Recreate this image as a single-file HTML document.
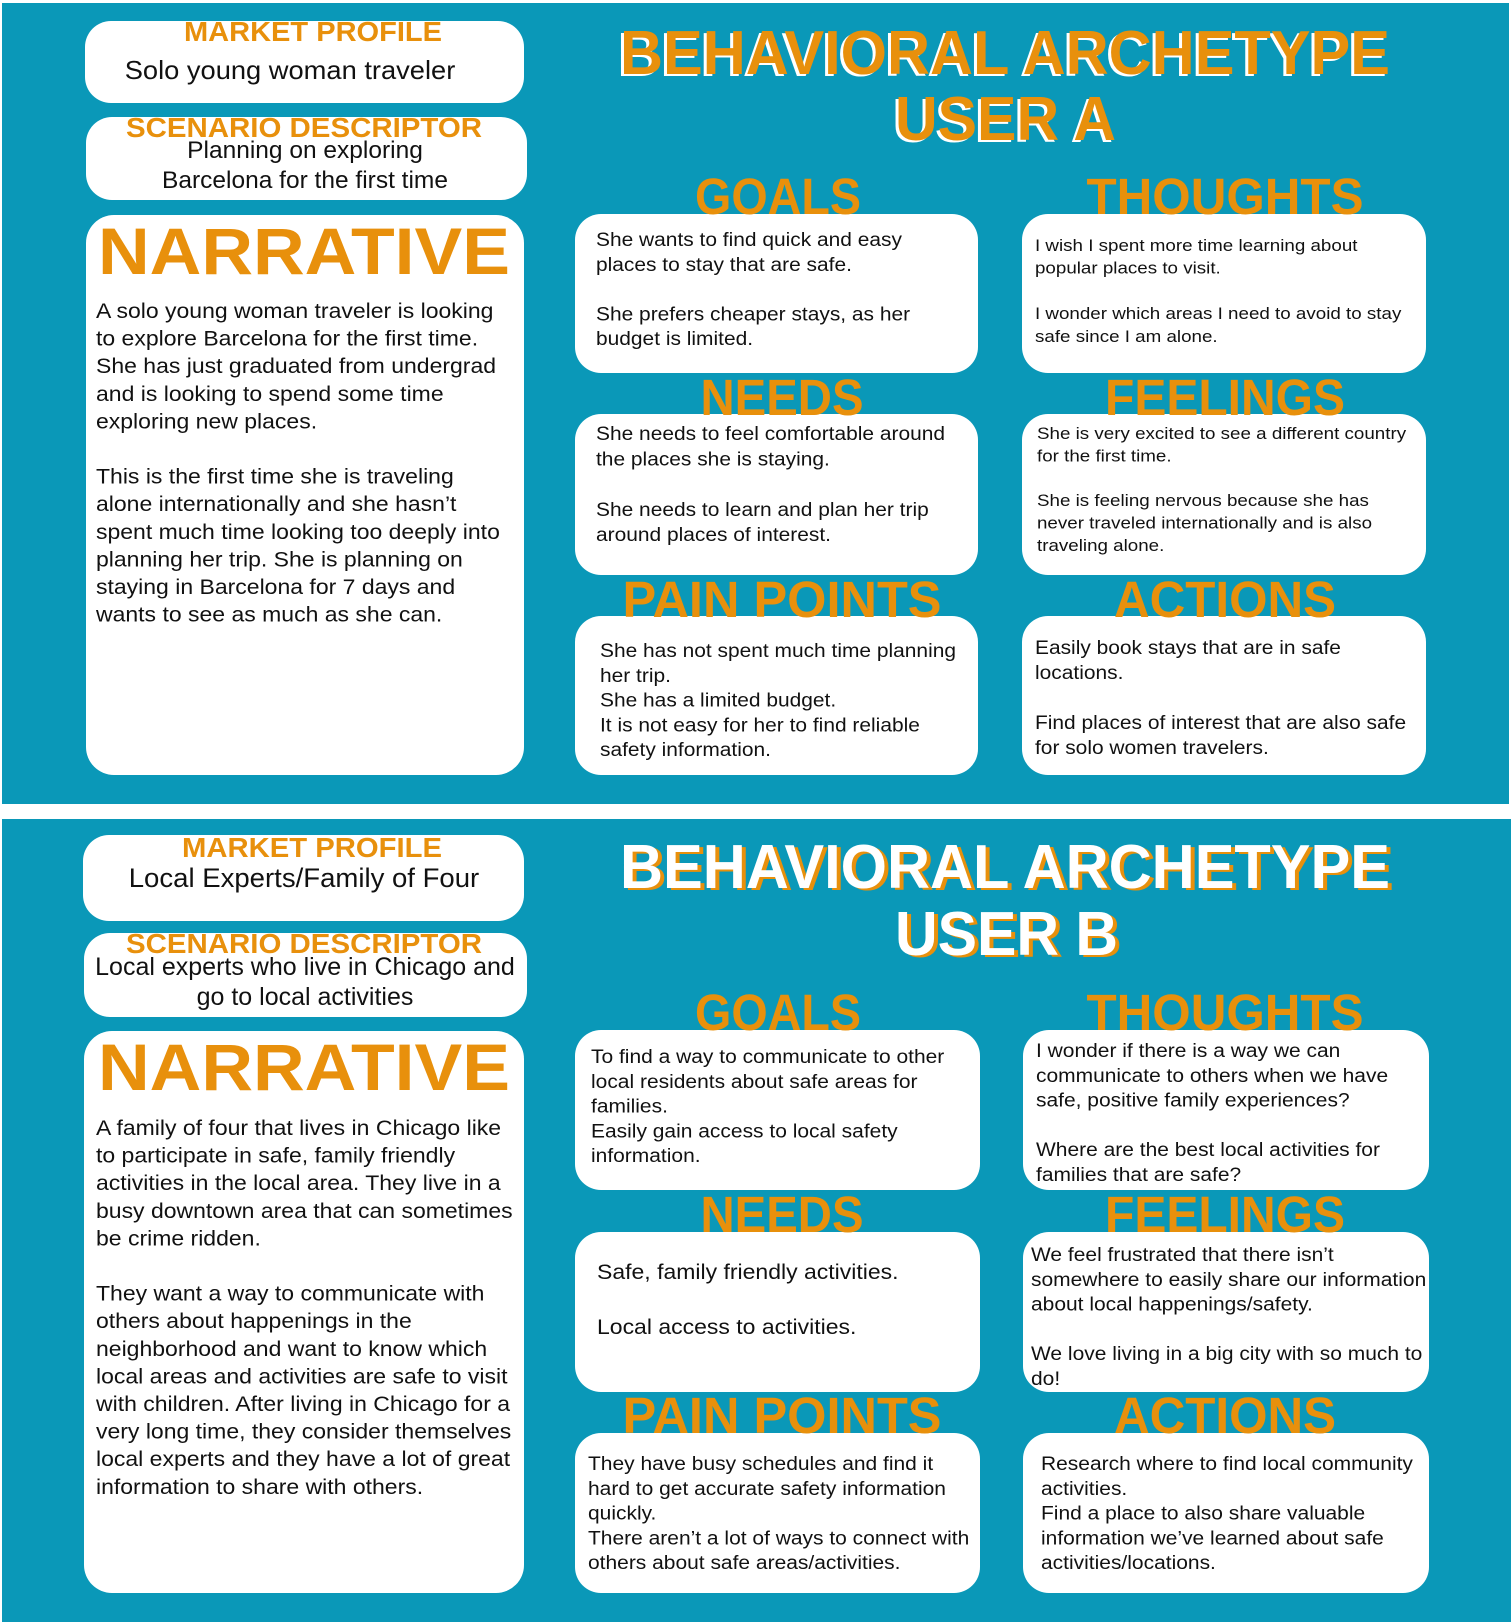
<!DOCTYPE html>
<html><head><meta charset="utf-8"><style>
html,body{margin:0;padding:0;background:#fff;width:1511px;height:1622px;overflow:hidden}
svg{display:block}
.b{font-family:"Liberation Sans",Arial,sans-serif;fill:#111}
.h{font-family:"Liberation Sans",Arial,sans-serif;font-weight:bold;fill:#e8900c}
</style></head><body>
<svg width="1511" height="1622" viewBox="0 0 1511 1622" xmlns="http://www.w3.org/2000/svg">
<rect x="0" y="0" width="1511" height="1622" fill="#fff"/>
<rect x="2" y="3" width="1507" height="801" fill="#0a98b8"/>
<rect x="2" y="819" width="1509" height="803" fill="#0a98b8"/>

<g fill="#fff">
<rect x="85" y="21" width="439" height="82" rx="26"/>
<rect x="86" y="117" width="441" height="83" rx="26"/>
<rect x="86" y="215" width="438" height="560" rx="28"/>
<rect x="575" y="214" width="403" height="159" rx="26"/>
<rect x="1022" y="214" width="404" height="159" rx="26"/>
<rect x="575" y="414" width="403" height="161" rx="26"/>
<rect x="1022" y="414" width="404" height="161" rx="26"/>
<rect x="575" y="616" width="403" height="159" rx="26"/>
<rect x="1022" y="616" width="404" height="159" rx="26"/>

<rect x="83" y="835" width="441" height="86" rx="26"/>
<rect x="84" y="933" width="443" height="84" rx="26"/>
<rect x="84" y="1031" width="440" height="562" rx="28"/>
<rect x="575" y="1030" width="405" height="160" rx="26"/>
<rect x="1023" y="1030" width="406" height="160" rx="26"/>
<rect x="575" y="1232" width="405" height="160" rx="26"/>
<rect x="1023" y="1232" width="406" height="160" rx="26"/>
<rect x="575" y="1433" width="405" height="160" rx="26"/>
<rect x="1023" y="1433" width="406" height="160" rx="26"/>
</g>

<!-- Titles -->
<g class="h" font-size="62">
<text x="617" y="76" textLength="770" lengthAdjust="spacingAndGlyphs" fill="#fff">BEHAVIORAL ARCHETYPE</text>
<text x="620" y="74" textLength="770" lengthAdjust="spacingAndGlyphs">BEHAVIORAL ARCHETYPE</text>
<text x="892" y="142" textLength="221" lengthAdjust="spacingAndGlyphs" fill="#fff">USER A</text>
<text x="895" y="140" textLength="221" lengthAdjust="spacingAndGlyphs">USER A</text>

<text x="624" y="890" textLength="770" lengthAdjust="spacingAndGlyphs">BEHAVIORAL ARCHETYPE</text>
<text x="620" y="888" textLength="770" lengthAdjust="spacingAndGlyphs" fill="#fff">BEHAVIORAL ARCHETYPE</text>
<text x="899" y="957" textLength="223" lengthAdjust="spacingAndGlyphs">USER B</text>
<text x="895" y="955" textLength="223" lengthAdjust="spacingAndGlyphs" fill="#fff">USER B</text>
</g>

<!-- section headings -->
<g class="h" font-size="51" text-anchor="middle">
<text x="778" y="214" textLength="166" lengthAdjust="spacingAndGlyphs">GOALS</text>
<text x="1225" y="214" textLength="277" lengthAdjust="spacingAndGlyphs">THOUGHTS</text>
<text x="782" y="415" textLength="163" lengthAdjust="spacingAndGlyphs">NEEDS</text>
<text x="1225" y="415" textLength="240" lengthAdjust="spacingAndGlyphs">FEELINGS</text>
<text x="782" y="617" textLength="319" lengthAdjust="spacingAndGlyphs">PAIN POINTS</text>
<text x="1225" y="617" textLength="222" lengthAdjust="spacingAndGlyphs">ACTIONS</text>

<text x="778" y="1030" textLength="166" lengthAdjust="spacingAndGlyphs">GOALS</text>
<text x="1225" y="1030" textLength="277" lengthAdjust="spacingAndGlyphs">THOUGHTS</text>
<text x="782" y="1232" textLength="163" lengthAdjust="spacingAndGlyphs">NEEDS</text>
<text x="1225" y="1232" textLength="240" lengthAdjust="spacingAndGlyphs">FEELINGS</text>
<text x="782" y="1433" textLength="319" lengthAdjust="spacingAndGlyphs">PAIN POINTS</text>
<text x="1225" y="1433" textLength="222" lengthAdjust="spacingAndGlyphs">ACTIONS</text>
</g>

<g class="h" font-size="28">
<text x="184" y="41" textLength="258" lengthAdjust="spacingAndGlyphs">MARKET PROFILE</text>
<text x="126" y="137" textLength="356" lengthAdjust="spacingAndGlyphs">SCENARIO DESCRIPTOR</text>
<text x="182" y="857" textLength="260" lengthAdjust="spacingAndGlyphs">MARKET PROFILE</text>
<text x="126" y="953" textLength="356" lengthAdjust="spacingAndGlyphs">SCENARIO DESCRIPTOR</text>
</g>
<g class="h" font-size="66">
<text x="98" y="274" textLength="412" lengthAdjust="spacingAndGlyphs">NARRATIVE</text>
<text x="98" y="1090" textLength="412" lengthAdjust="spacingAndGlyphs">NARRATIVE</text>
</g>

<!-- panel 1 body -->
<g class="b">
<text x="290" y="79" font-size="26" text-anchor="middle" transform="matrix(1.05,0,0,1,-14.5,0)">Solo young woman traveler</text>
<text x="305" y="158" font-size="24.5" text-anchor="middle">Planning on exploring</text>
<text x="305" y="188" font-size="24.5" text-anchor="middle">Barcelona for the first time</text>

<text font-size="21.3" x="96" y="318" transform="matrix(1.08,0,0,1,-7.68,0)">
<tspan x="96">A solo young woman traveler is looking</tspan>
<tspan x="96" dy="27.6">to explore Barcelona for the first time.</tspan>
<tspan x="96" dy="27.6">She has just graduated from undergrad</tspan>
<tspan x="96" dy="27.6">and is looking to spend some time</tspan>
<tspan x="96" dy="27.6">exploring new places.</tspan>
<tspan x="96" dy="55.2">This is the first time she is traveling</tspan>
<tspan x="96" dy="27.6">alone internationally and she hasn’t</tspan>
<tspan x="96" dy="27.6">spent much time looking too deeply into</tspan>
<tspan x="96" dy="27.6">planning her trip. She is planning on</tspan>
<tspan x="96" dy="27.6">staying in Barcelona for 7 days and</tspan>
<tspan x="96" dy="27.6">wants to see as much as she can.</tspan>
</text>

<text font-size="19.3" x="596" y="246" transform="matrix(1.085,0,0,1,-50.66,0)">
<tspan x="596">She wants to find quick and easy</tspan>
<tspan x="596" dy="24.8">places to stay that are safe.</tspan>
<tspan x="596" dy="49.6">She prefers cheaper stays, as her</tspan>
<tspan x="596" dy="24.8">budget is limited.</tspan>
</text>
<text font-size="17" x="1035" y="251" transform="matrix(1.105,0,0,1,-108.68,0)">
<tspan x="1035">I wish I spent more time learning about</tspan>
<tspan x="1035" dy="22.7">popular places to visit.</tspan>
<tspan x="1035" dy="45.4">I wonder which areas I need to avoid to stay</tspan>
<tspan x="1035" dy="22.7">safe since I am alone.</tspan>
</text>
<text font-size="19.3" x="596" y="440" transform="matrix(1.085,0,0,1,-50.66,0)">
<tspan x="596">She needs to feel comfortable around</tspan>
<tspan x="596" dy="25.3">the places she is staying.</tspan>
<tspan x="596" dy="50.6">She needs to learn and plan her trip</tspan>
<tspan x="596" dy="25.3">around places of interest.</tspan>
</text>
<text font-size="17" x="1037" y="439" transform="matrix(1.105,0,0,1,-108.89,0)">
<tspan x="1037">She is very excited to see a different country</tspan>
<tspan x="1037" dy="22.4">for the first time.</tspan>
<tspan x="1037" dy="44.8">She is feeling nervous because she has</tspan>
<tspan x="1037" dy="22.4">never traveled internationally and is also</tspan>
<tspan x="1037" dy="22.4">traveling alone.</tspan>
</text>
<text font-size="19.3" x="600" y="657" transform="matrix(1.085,0,0,1,-51,0)">
<tspan x="600">She has not spent much time planning</tspan>
<tspan x="600" dy="24.8">her trip.</tspan>
<tspan x="600" dy="24.8">She has a limited budget.</tspan>
<tspan x="600" dy="24.8">It is not easy for her to find reliable</tspan>
<tspan x="600" dy="24.8">safety information.</tspan>
</text>
<text font-size="19.3" x="1035" y="654" transform="matrix(1.085,0,0,1,-87.98,0)">
<tspan x="1035">Easily book stays that are in safe</tspan>
<tspan x="1035" dy="25">locations.</tspan>
<tspan x="1035" dy="50">Find places of interest that are also safe</tspan>
<tspan x="1035" dy="25">for solo women travelers.</tspan>
</text>
</g>

<!-- panel 2 body -->
<g class="b">
<text x="304" y="887" font-size="26.5" text-anchor="middle" transform="matrix(1.04,0,0,1,-12.16,0)">Local Experts/Family of Four</text>
<text x="305" y="975" font-size="25" text-anchor="middle">Local experts who live in Chicago and</text>
<text x="305" y="1005" font-size="25" text-anchor="middle">go to local activities</text>

<text font-size="21.3" x="96" y="1135" transform="matrix(1.08,0,0,1,-7.68,0)">
<tspan x="96">A family of four that lives in Chicago like</tspan>
<tspan x="96" dy="27.6">to participate in safe, family friendly</tspan>
<tspan x="96" dy="27.6">activities in the local area.  They live in a</tspan>
<tspan x="96" dy="27.6">busy downtown area that can sometimes</tspan>
<tspan x="96" dy="27.6">be crime ridden.</tspan>
<tspan x="96" dy="55.2">They want a way to communicate with</tspan>
<tspan x="96" dy="27.6">others about happenings in the</tspan>
<tspan x="96" dy="27.6">neighborhood and want to know which</tspan>
<tspan x="96" dy="27.6">local areas and activities are safe to visit</tspan>
<tspan x="96" dy="27.6">with children. After living in Chicago for a</tspan>
<tspan x="96" dy="27.6">very long time, they consider themselves</tspan>
<tspan x="96" dy="27.6">local experts and they have a lot of great</tspan>
<tspan x="96" dy="27.6">information to share with others.</tspan>
</text>

<text font-size="19.5" x="591" y="1063" transform="matrix(1.076,0,0,1,-44.92,0)">
<tspan x="591">To find a way to communicate to other</tspan>
<tspan x="591" dy="24.8">local residents about safe areas for</tspan>
<tspan x="591" dy="24.8">families.</tspan>
<tspan x="591" dy="24.8">Easily gain access to local safety</tspan>
<tspan x="591" dy="24.8">information.</tspan>
</text>
<text font-size="19.5" x="1036" y="1057" transform="matrix(1.076,0,0,1,-78.74,0)">
<tspan x="1036">I wonder if there is a way we can</tspan>
<tspan x="1036" dy="24.8">communicate to others when we have</tspan>
<tspan x="1036" dy="24.8">safe, positive family experiences?</tspan>
<tspan x="1036" dy="49.6">Where are the best local activities for</tspan>
<tspan x="1036" dy="24.8">families that are safe?</tspan>
</text>
<text font-size="21" x="597" y="1279" transform="matrix(1.095,0,0,1,-56.72,0)">
<tspan x="597">Safe, family friendly activities.</tspan>
<tspan x="597" dy="55">Local access to activities.</tspan>
</text>
<text font-size="19.5" x="1031" y="1261" transform="matrix(1.076,0,0,1,-78.36,0)">
<tspan x="1031">We feel frustrated that there isn’t</tspan>
<tspan x="1031" dy="24.8">somewhere to easily share our information</tspan>
<tspan x="1031" dy="24.8">about local happenings/safety.</tspan>
<tspan x="1031" dy="49.6">We love living in a big city with so much to</tspan>
<tspan x="1031" dy="24.8">do!</tspan>
</text>
<text font-size="19.5" x="588" y="1470" transform="matrix(1.076,0,0,1,-44.69,0)">
<tspan x="588">They have busy schedules and find it</tspan>
<tspan x="588" dy="24.8">hard to get accurate safety information</tspan>
<tspan x="588" dy="24.8">quickly.</tspan>
<tspan x="588" dy="24.8">There aren’t a lot of ways to connect with</tspan>
<tspan x="588" dy="24.8">others about safe areas/activities.</tspan>
</text>
<text font-size="19.5" x="1041" y="1470" transform="matrix(1.076,0,0,1,-79.12,0)">
<tspan x="1041">Research where to find local community</tspan>
<tspan x="1041" dy="24.8">activities.</tspan>
<tspan x="1041" dy="24.8">Find a place to also share valuable</tspan>
<tspan x="1041" dy="24.8">information we’ve learned about safe</tspan>
<tspan x="1041" dy="24.8">activities/locations.</tspan>
</text>
</g>
</svg>
</body></html>
